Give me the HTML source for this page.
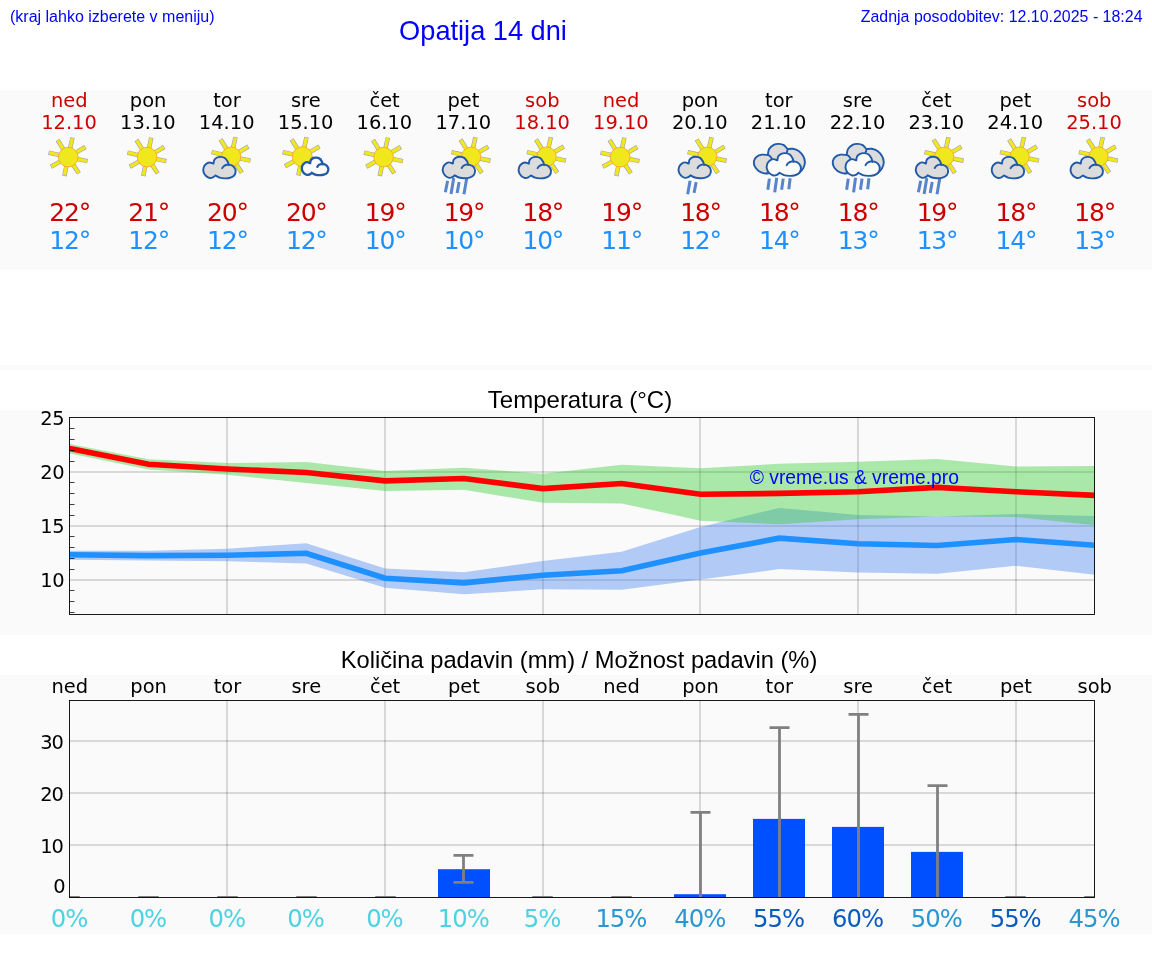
<!DOCTYPE html>
<html lang="sl"><head><meta charset="utf-8"><title>Opatija 14 dni</title>
<style>
html,body{margin:0;padding:0;background:#fff;overflow:hidden}
svg{display:block}
.dj{font-family:"DejaVu Sans","Liberation Sans",sans-serif}
.ar{font-family:"Liberation Sans",Arial,sans-serif}
text{text-anchor:middle}
</style></head><body>
<svg width="1152" height="975" viewBox="0 0 1152 975">
<rect x="0" y="90" width="1152" height="180" fill="#fafafa"/>
<rect x="0" y="365" width="1152" height="5" fill="#fafafa"/>
<rect x="0" y="410" width="1152" height="224.7" fill="#fafafa"/>
<rect x="0" y="675" width="1152" height="259.5" fill="#fafafa"/>
<g class="ar" fill="#0000ff">
<text x="10" y="21.5" font-size="16" style="text-anchor:start">(kraj lahko izberete v meniju)</text>
<text x="483" y="39.5" font-size="27.2">Opatija 14 dni</text>
<text x="1142.5" y="21.5" font-size="15.94" style="text-anchor:end">Zadnja posodobitev: 12.10.2025 - 18:24</text>
</g>
<g id="icons">
<g stroke-linecap="butt"><path d="M70.09 148.51L72.48 137.62M75.78 152.63L85.39 146.97M76.81 158.91L87.53 161.17M73.03 164.46L78.88 173.36M66.45 165.72L64.36 175.96M60.52 161.39L50.96 166.74M59.63 155.12L48.57 152.57M63.58 149.61L57.61 139.96" stroke="#9090a4" stroke-opacity="0.85" stroke-width="4.5" fill="none"/><path d="M70.09 148.51L72.37 138.15M75.78 152.63L84.92 147.25M76.81 158.91L86.99 161.06M73.03 164.46L78.58 172.90M66.45 165.72L64.47 175.42M60.52 161.39L51.44 166.47M59.63 155.12L49.10 152.69M63.58 149.61L57.90 140.42" stroke="#f0e81c" stroke-width="3.3" fill="none"/></g><circle cx="68.20" cy="157.10" r="9.8" fill="#f0e81c" stroke="#f8a824" stroke-width="0.9"/>
<g stroke-linecap="butt"><path d="M148.94 148.51L151.33 137.62M154.63 152.63L164.24 146.97M155.66 158.91L166.37 161.17M151.88 164.46L157.72 173.36M145.29 165.72L143.21 175.96M139.36 161.39L129.81 166.74M138.47 155.12L127.41 152.57M142.42 149.61L136.46 139.96" stroke="#9090a4" stroke-opacity="0.85" stroke-width="4.5" fill="none"/><path d="M148.94 148.51L151.21 138.15M154.63 152.63L163.76 147.25M155.66 158.91L165.83 161.06M151.88 164.46L157.42 172.90M145.29 165.72L143.32 175.42M139.36 161.39L130.29 166.47M138.47 155.12L127.95 152.69M142.42 149.61L136.75 140.42" stroke="#f0e81c" stroke-width="3.3" fill="none"/></g><circle cx="147.05" cy="157.10" r="9.8" fill="#f0e81c" stroke="#f8a824" stroke-width="0.9"/>
<g stroke-linecap="butt"><path d="M233.04 148.20L235.48 137.12M238.60 152.24L248.38 146.47M239.61 158.37L250.52 160.67M235.91 163.79L241.87 172.86M229.48 165.03L227.35 175.46M223.69 160.80L213.95 166.24M222.81 154.67L211.56 152.07M226.67 149.28L220.60 139.46" stroke="#9090a4" stroke-opacity="0.85" stroke-width="4.5" fill="none"/><path d="M233.04 148.20L235.36 137.65M238.60 152.24L247.91 146.75M239.61 158.37L249.98 160.56M235.91 163.79L241.57 172.40M229.48 165.03L227.46 174.92M223.69 160.80L214.43 165.97M222.81 154.67L212.09 152.19M226.67 149.28L220.89 139.92" stroke="#f0e81c" stroke-width="3.3" fill="none"/></g><circle cx="231.19" cy="156.60" r="9.6" fill="#f0e81c" stroke="#f8a824" stroke-width="0.9"/>
<path d="M215.43 175.44C215.02 175.75 213.93 176.91 212.96 177.33C212.00 177.75 210.83 178.21 209.63 177.95C208.43 177.69 206.81 176.84 205.78 175.79C204.76 174.75 203.82 173.10 203.48 171.69C203.14 170.28 203.35 168.57 203.73 167.33C204.12 166.09 204.84 165.06 205.78 164.26C206.72 163.45 208.09 162.62 209.37 162.51C210.66 162.41 212.79 163.45 213.48 163.64L213.48 163.64C213.61 163.02 213.65 160.92 214.25 159.90C214.84 158.87 216.00 157.99 217.07 157.49C218.14 156.98 219.37 156.79 220.66 156.87C221.94 156.96 223.61 157.24 224.76 158.00C225.91 158.76 226.90 160.24 227.58 161.44C228.26 162.63 228.65 164.56 228.86 165.18L228.86 165.18C229.12 165.14 229.55 164.61 230.40 164.92C231.25 165.24 233.12 166.08 233.99 167.08C234.86 168.08 235.59 169.56 235.63 170.92C235.67 172.29 235.16 174.15 234.25 175.28C233.33 176.42 231.72 177.23 230.14 177.74C228.56 178.26 226.51 178.38 224.76 178.36C223.01 178.33 221.19 178.08 219.63 177.59C218.08 177.10 216.13 175.79 215.43 175.44Z" fill="#dcdcdc"/><path d="M215.43 175.44C215.02 175.75 213.93 176.91 212.96 177.33C212.00 177.75 210.83 178.21 209.63 177.95C208.43 177.69 206.81 176.84 205.78 175.79C204.76 174.75 203.82 173.10 203.48 171.69C203.14 170.28 203.35 168.57 203.73 167.33C204.12 166.09 204.84 165.06 205.78 164.26C206.72 163.45 208.09 162.62 209.37 162.51C210.66 162.41 212.79 163.45 213.48 163.64L213.48 163.64C213.61 163.02 213.65 160.92 214.25 159.90C214.84 158.87 216.00 157.99 217.07 157.49C218.14 156.98 219.37 156.79 220.66 156.87C221.94 156.96 223.61 157.24 224.76 158.00C225.91 158.76 226.90 160.24 227.58 161.44C228.26 162.63 228.65 164.56 228.86 165.18M222.19 168.21C222.45 167.86 222.96 166.73 223.73 166.15C224.50 165.58 225.70 164.97 226.81 164.77C227.92 164.56 229.20 164.54 230.40 164.92C231.60 165.31 233.12 166.08 233.99 167.08C234.86 168.08 235.59 169.56 235.63 170.92C235.67 172.29 235.16 174.15 234.25 175.28C233.33 176.42 231.72 177.23 230.14 177.74C228.56 178.26 226.51 178.38 224.76 178.36C223.01 178.33 221.19 178.08 219.63 177.59C218.08 177.10 216.13 175.79 215.43 175.44" fill="none" stroke="#2159a9" stroke-width="1.9" stroke-linecap="round" stroke-linejoin="round"/>
<g stroke-linecap="butt"><path d="M304.15 147.91L306.52 137.12M309.91 152.08L319.43 146.47M310.95 158.44L321.56 160.67M307.12 164.04L312.92 172.86M300.46 165.32L298.40 175.46M294.47 160.94L285.00 166.24M293.57 154.60L282.60 152.07M297.56 149.03L291.65 139.46" stroke="#9090a4" stroke-opacity="0.85" stroke-width="4.5" fill="none"/><path d="M304.15 147.91L306.40 137.65M309.91 152.08L318.95 146.75M310.95 158.44L321.03 160.56M307.12 164.04L312.61 172.40M300.46 165.32L298.51 174.92M294.47 160.94L285.48 165.97M293.57 154.60L283.14 152.19M297.56 149.03L291.94 139.92" stroke="#f0e81c" stroke-width="3.3" fill="none"/></g><circle cx="302.24" cy="156.60" r="9.9" fill="#f0e81c" stroke="#f8a824" stroke-width="0.9"/>
<path d="M311.77 172.81C311.43 173.07 310.54 174.02 309.75 174.36C308.96 174.71 308.00 175.08 307.02 174.87C306.03 174.66 304.70 173.96 303.86 173.10C303.02 172.25 302.25 170.89 301.97 169.74C301.69 168.58 301.86 167.18 302.18 166.16C302.50 165.15 303.09 164.30 303.86 163.64C304.63 162.98 305.75 162.29 306.81 162.21C307.86 162.13 309.61 162.98 310.17 163.14L310.17 163.14C310.27 162.62 310.31 160.91 310.80 160.07C311.29 159.22 312.24 158.50 313.11 158.09C313.99 157.68 315.01 157.51 316.06 157.58C317.11 157.65 318.47 157.89 319.42 158.51C320.37 159.13 321.17 160.35 321.73 161.33C322.29 162.31 322.61 163.89 322.79 164.40L322.79 164.40C323.00 164.36 323.35 163.93 324.05 164.19C324.75 164.45 326.28 165.13 326.99 165.95C327.71 166.77 328.30 167.99 328.34 169.11C328.37 170.23 327.95 171.75 327.20 172.68C326.45 173.61 325.13 174.28 323.84 174.70C322.54 175.12 320.86 175.23 319.42 175.20C317.98 175.18 316.49 174.97 315.22 174.57C313.94 174.17 312.34 173.10 311.77 172.81Z" fill="#fbfbfb"/><path d="M311.77 172.81C311.43 173.07 310.54 174.02 309.75 174.36C308.96 174.71 308.00 175.08 307.02 174.87C306.03 174.66 304.70 173.96 303.86 173.10C303.02 172.25 302.25 170.89 301.97 169.74C301.69 168.58 301.86 167.18 302.18 166.16C302.50 165.15 303.09 164.30 303.86 163.64C304.63 162.98 305.75 162.29 306.81 162.21C307.86 162.13 309.61 162.98 310.17 163.14L310.17 163.14C310.27 162.62 310.31 160.91 310.80 160.07C311.29 159.22 312.24 158.50 313.11 158.09C313.99 157.68 315.01 157.51 316.06 157.58C317.11 157.65 318.47 157.89 319.42 158.51C320.37 159.13 321.17 160.35 321.73 161.33C322.29 162.31 322.61 163.89 322.79 164.40M317.32 166.88C317.53 166.60 317.95 165.67 318.58 165.20C319.21 164.73 320.19 164.23 321.10 164.06C322.01 163.89 323.07 163.87 324.05 164.19C325.03 164.50 326.28 165.13 326.99 165.95C327.71 166.77 328.30 167.99 328.34 169.11C328.37 170.23 327.95 171.75 327.20 172.68C326.45 173.61 325.13 174.28 323.84 174.70C322.54 175.12 320.86 175.23 319.42 175.20C317.98 175.18 316.49 174.97 315.22 174.57C313.94 174.17 312.34 173.10 311.77 172.81" fill="none" stroke="#2159a9" stroke-width="2.3" stroke-linecap="round" stroke-linejoin="round"/>
<g stroke-linecap="butt"><path d="M385.47 148.51L387.87 137.62M391.17 152.63L400.77 146.97M392.20 158.91L402.91 161.17M388.42 164.46L394.26 173.36M381.83 165.72L379.75 175.96M375.90 161.39L366.34 166.74M375.01 155.12L363.95 152.57M378.96 149.61L373.00 139.96" stroke="#9090a4" stroke-opacity="0.85" stroke-width="4.5" fill="none"/><path d="M385.47 148.51L387.75 138.15M391.17 152.63L400.30 147.25M392.20 158.91L402.37 161.06M388.42 164.46L393.96 172.90M381.83 165.72L379.86 175.42M375.90 161.39L366.82 166.47M375.01 155.12L364.49 152.69M378.96 149.61L373.29 140.42" stroke="#f0e81c" stroke-width="3.3" fill="none"/></g><circle cx="383.58" cy="157.10" r="9.8" fill="#f0e81c" stroke="#f8a824" stroke-width="0.9"/>
<g stroke-linecap="butt"><path d="M472.98 148.30L475.41 137.22M478.54 152.34L488.32 146.57M479.55 158.47L490.46 160.77M475.85 163.89L481.81 172.96M469.42 165.13L467.29 175.56M463.62 160.90L453.89 166.34M462.75 154.77L451.50 152.17M466.61 149.38L460.54 139.56" stroke="#9090a4" stroke-opacity="0.85" stroke-width="4.5" fill="none"/><path d="M472.98 148.30L475.30 137.75M478.54 152.34L487.85 146.85M479.55 158.47L489.92 160.66M475.85 163.89L481.51 172.50M469.42 165.13L467.40 175.02M463.62 160.90L454.37 166.07M462.75 154.77L452.03 152.29M466.61 149.38L460.83 140.02" stroke="#f0e81c" stroke-width="3.3" fill="none"/></g><circle cx="471.13" cy="156.70" r="9.6" fill="#f0e81c" stroke="#f8a824" stroke-width="0.9"/>
<path d="M454.86 175.34C454.45 175.65 453.37 176.81 452.40 177.23C451.44 177.65 450.27 178.11 449.07 177.85C447.87 177.59 446.25 176.74 445.22 175.69C444.20 174.65 443.26 173.00 442.92 171.59C442.57 170.18 442.79 168.47 443.17 167.23C443.56 165.99 444.28 164.96 445.22 164.16C446.16 163.35 447.53 162.52 448.81 162.41C450.09 162.31 452.23 163.35 452.92 163.54L452.92 163.54C453.04 162.92 453.09 160.82 453.68 159.80C454.28 158.77 455.44 157.89 456.51 157.39C457.57 156.88 458.81 156.69 460.09 156.77C461.38 156.86 463.04 157.14 464.20 157.90C465.35 158.66 466.33 160.14 467.02 161.34C467.70 162.53 468.09 164.46 468.30 165.08L468.30 165.08C468.56 165.04 468.98 164.51 469.84 164.82C470.69 165.14 472.56 165.98 473.43 166.98C474.30 167.98 475.03 169.46 475.07 170.82C475.11 172.19 474.60 174.05 473.68 175.18C472.77 176.32 471.16 177.13 469.58 177.64C468.00 178.16 465.95 178.28 464.20 178.26C462.45 178.23 460.62 177.98 459.07 177.49C457.51 177.00 455.56 175.69 454.86 175.34Z" fill="#dcdcdc"/><path d="M454.86 175.34C454.45 175.65 453.37 176.81 452.40 177.23C451.44 177.65 450.27 178.11 449.07 177.85C447.87 177.59 446.25 176.74 445.22 175.69C444.20 174.65 443.26 173.00 442.92 171.59C442.57 170.18 442.79 168.47 443.17 167.23C443.56 165.99 444.28 164.96 445.22 164.16C446.16 163.35 447.53 162.52 448.81 162.41C450.09 162.31 452.23 163.35 452.92 163.54L452.92 163.54C453.04 162.92 453.09 160.82 453.68 159.80C454.28 158.77 455.44 157.89 456.51 157.39C457.57 156.88 458.81 156.69 460.09 156.77C461.38 156.86 463.04 157.14 464.20 157.90C465.35 158.66 466.33 160.14 467.02 161.34C467.70 162.53 468.09 164.46 468.30 165.08M461.63 168.11C461.89 167.76 462.40 166.63 463.17 166.05C463.94 165.48 465.14 164.87 466.25 164.67C467.36 164.46 468.64 164.44 469.84 164.82C471.04 165.21 472.56 165.98 473.43 166.98C474.30 167.98 475.03 169.46 475.07 170.82C475.11 172.19 474.60 174.05 473.68 175.18C472.77 176.32 471.16 177.13 469.58 177.64C468.00 178.16 465.95 178.28 464.20 178.26C462.45 178.23 460.62 177.98 459.07 177.49C457.51 177.00 455.56 175.69 454.86 175.34" fill="none" stroke="#2159a9" stroke-width="1.9" stroke-linecap="round" stroke-linejoin="round"/>
<path d="M447.63 180.70L445.33 192.20M453.73 178.00L451.03 193.90M459.13 182.10L457.13 192.90M466.63 178.70L463.93 194.30" stroke="#2f66bd" stroke-opacity="0.8" stroke-width="3.0" fill="none"/>
<g stroke-linecap="butt"><path d="M548.42 148.20L550.86 137.12M553.99 152.24L563.77 146.47M554.99 158.37L565.90 160.67M551.30 163.79L557.26 172.86M544.86 165.03L542.74 175.46M539.07 160.80L529.34 166.24M538.20 154.67L526.94 152.07M542.06 149.28L535.99 139.46" stroke="#9090a4" stroke-opacity="0.85" stroke-width="4.5" fill="none"/><path d="M548.42 148.20L550.74 137.65M553.99 152.24L563.29 146.75M554.99 158.37L565.36 160.56M551.30 163.79L556.95 172.40M544.86 165.03L542.85 174.92M539.07 160.80L529.82 165.97M538.20 154.67L527.48 152.19M542.06 149.28L536.28 139.92" stroke="#f0e81c" stroke-width="3.3" fill="none"/></g><circle cx="546.58" cy="156.60" r="9.6" fill="#f0e81c" stroke="#f8a824" stroke-width="0.9"/>
<path d="M530.81 175.44C530.40 175.75 529.31 176.91 528.35 177.33C527.38 177.75 526.21 178.21 525.02 177.95C523.82 177.69 522.19 176.84 521.17 175.79C520.14 174.75 519.20 173.10 518.86 171.69C518.52 170.28 518.73 168.57 519.12 167.33C519.50 166.09 520.23 165.06 521.17 164.26C522.11 163.45 523.48 162.62 524.76 162.51C526.04 162.41 528.18 163.45 528.86 163.64L528.86 163.64C528.99 163.02 529.03 160.92 529.63 159.90C530.23 158.87 531.38 157.99 532.45 157.49C533.52 156.98 534.76 156.79 536.04 156.87C537.32 156.96 538.99 157.24 540.14 158.00C541.30 158.76 542.28 160.24 542.96 161.44C543.65 162.63 544.03 164.56 544.25 165.18L544.25 165.18C544.50 165.14 544.93 164.61 545.78 164.92C546.64 165.24 548.50 166.08 549.37 167.08C550.25 168.08 550.97 169.56 551.02 170.92C551.06 172.29 550.55 174.15 549.63 175.28C548.72 176.42 547.11 177.23 545.53 177.74C543.95 178.26 541.90 178.38 540.14 178.36C538.39 178.33 536.57 178.08 535.02 177.59C533.46 177.10 531.51 175.79 530.81 175.44Z" fill="#dcdcdc"/><path d="M530.81 175.44C530.40 175.75 529.31 176.91 528.35 177.33C527.38 177.75 526.21 178.21 525.02 177.95C523.82 177.69 522.19 176.84 521.17 175.79C520.14 174.75 519.20 173.10 518.86 171.69C518.52 170.28 518.73 168.57 519.12 167.33C519.50 166.09 520.23 165.06 521.17 164.26C522.11 163.45 523.48 162.62 524.76 162.51C526.04 162.41 528.18 163.45 528.86 163.64L528.86 163.64C528.99 163.02 529.03 160.92 529.63 159.90C530.23 158.87 531.38 157.99 532.45 157.49C533.52 156.98 534.76 156.79 536.04 156.87C537.32 156.96 538.99 157.24 540.14 158.00C541.30 158.76 542.28 160.24 542.96 161.44C543.65 162.63 544.03 164.56 544.25 165.18M537.58 168.21C537.84 167.86 538.35 166.73 539.12 166.15C539.89 165.58 541.08 164.97 542.19 164.77C543.31 164.56 544.59 164.54 545.78 164.92C546.98 165.31 548.50 166.08 549.37 167.08C550.25 168.08 550.97 169.56 551.02 170.92C551.06 172.29 550.55 174.15 549.63 175.28C548.72 176.42 547.11 177.23 545.53 177.74C543.95 178.26 541.90 178.38 540.14 178.36C538.39 178.33 536.57 178.08 535.02 177.59C533.46 177.10 531.51 175.79 530.81 175.44" fill="none" stroke="#2159a9" stroke-width="1.9" stroke-linecap="round" stroke-linejoin="round"/>
<g stroke-linecap="butt"><path d="M622.01 148.51L624.41 137.62M627.71 152.63L637.31 146.97M628.73 158.91L639.45 161.17M624.95 164.46L630.80 173.36M618.37 165.72L616.29 175.96M612.44 161.39L602.88 166.74M611.55 155.12L600.49 152.57M615.50 149.61L609.53 139.96" stroke="#9090a4" stroke-opacity="0.85" stroke-width="4.5" fill="none"/><path d="M622.01 148.51L624.29 138.15M627.71 152.63L636.84 147.25M628.73 158.91L638.91 161.06M624.95 164.46L630.50 172.90M618.37 165.72L616.39 175.42M612.44 161.39L603.36 166.47M611.55 155.12L601.03 152.69M615.50 149.61L609.82 140.42" stroke="#f0e81c" stroke-width="3.3" fill="none"/></g><circle cx="620.12" cy="157.10" r="9.8" fill="#f0e81c" stroke="#f8a824" stroke-width="0.9"/>
<g stroke-linecap="butt"><path d="M709.12 148.30L711.55 137.22M714.68 152.34L724.46 146.57M715.68 158.47L726.59 160.77M711.99 163.89L717.95 172.96M705.55 165.13L703.43 175.56M699.76 160.90L690.03 166.34M698.89 154.77L687.64 152.17M702.75 149.38L696.68 139.56" stroke="#9090a4" stroke-opacity="0.85" stroke-width="4.5" fill="none"/><path d="M709.12 148.30L711.44 137.75M714.68 152.34L723.98 146.85M715.68 158.47L726.06 160.66M711.99 163.89L717.65 172.50M705.55 165.13L703.54 175.02M699.76 160.90L690.51 166.07M698.89 154.77L688.17 152.29M702.75 149.38L696.97 140.02" stroke="#f0e81c" stroke-width="3.3" fill="none"/></g><circle cx="707.27" cy="156.70" r="9.6" fill="#f0e81c" stroke="#f8a824" stroke-width="0.9"/>
<path d="M690.70 175.34C690.29 175.65 689.21 176.81 688.24 177.23C687.28 177.65 686.10 178.11 684.91 177.85C683.71 177.59 682.09 176.74 681.06 175.69C680.04 174.65 679.10 173.00 678.75 171.59C678.41 170.18 678.63 168.47 679.01 167.23C679.39 165.99 680.12 164.96 681.06 164.16C682.00 163.35 683.37 162.52 684.65 162.41C685.93 162.31 688.07 163.35 688.75 163.54L688.75 163.54C688.88 162.92 688.92 160.82 689.52 159.80C690.12 158.77 691.28 157.89 692.34 157.39C693.41 156.88 694.65 156.69 695.93 156.77C697.22 156.86 698.88 157.14 700.04 157.90C701.19 158.66 702.17 160.14 702.86 161.34C703.54 162.53 703.92 164.46 704.14 165.08L704.14 165.08C704.39 165.04 704.82 164.51 705.68 164.82C706.53 165.14 708.39 165.98 709.27 166.98C710.14 167.98 710.86 169.46 710.91 170.82C710.95 172.19 710.44 174.05 709.52 175.18C708.61 176.32 707.00 177.13 705.42 177.64C703.84 178.16 701.79 178.28 700.04 178.26C698.28 178.23 696.46 177.98 694.91 177.49C693.35 177.00 691.40 175.69 690.70 175.34Z" fill="#dcdcdc"/><path d="M690.70 175.34C690.29 175.65 689.21 176.81 688.24 177.23C687.28 177.65 686.10 178.11 684.91 177.85C683.71 177.59 682.09 176.74 681.06 175.69C680.04 174.65 679.10 173.00 678.75 171.59C678.41 170.18 678.63 168.47 679.01 167.23C679.39 165.99 680.12 164.96 681.06 164.16C682.00 163.35 683.37 162.52 684.65 162.41C685.93 162.31 688.07 163.35 688.75 163.54L688.75 163.54C688.88 162.92 688.92 160.82 689.52 159.80C690.12 158.77 691.28 157.89 692.34 157.39C693.41 156.88 694.65 156.69 695.93 156.77C697.22 156.86 698.88 157.14 700.04 157.90C701.19 158.66 702.17 160.14 702.86 161.34C703.54 162.53 703.92 164.46 704.14 165.08M697.47 168.11C697.73 167.76 698.24 166.63 699.01 166.05C699.78 165.48 700.98 164.87 702.09 164.67C703.20 164.46 704.48 164.44 705.68 164.82C706.87 165.21 708.39 165.98 709.27 166.98C710.14 167.98 710.86 169.46 710.91 170.82C710.95 172.19 710.44 174.05 709.52 175.18C708.61 176.32 707.00 177.13 705.42 177.64C703.84 178.16 701.79 178.28 700.04 178.26C698.28 178.23 696.46 177.98 694.91 177.49C693.35 177.00 691.40 175.69 690.70 175.34" fill="none" stroke="#2159a9" stroke-width="1.9" stroke-linecap="round" stroke-linejoin="round"/>
<path d="M690.07 180.70L687.67 194.30M696.17 182.10L694.07 192.90" stroke="#2f66bd" stroke-opacity="0.8" stroke-width="3.0" fill="none"/>
<path d="M770.44 172.74C769.45 172.85 766.50 173.67 764.53 173.40C762.56 173.12 760.26 172.30 758.62 171.10C756.98 169.89 755.45 167.87 754.68 166.17C753.92 164.48 753.70 162.51 754.02 160.92C754.35 159.33 755.34 157.69 756.65 156.65C757.96 155.61 760.04 154.96 761.90 154.68C763.76 154.41 766.83 154.96 767.81 155.01L767.81 155.01C768.03 154.03 768.14 150.80 769.13 149.10C770.11 147.41 772.08 145.71 773.72 144.83C775.36 143.96 777.28 143.79 778.98 143.85C780.67 143.90 782.48 144.29 783.90 145.16C785.32 146.04 786.91 148.45 787.51 149.10L787.51 149.10C788.39 149.05 790.90 148.45 792.76 148.77C794.62 149.10 796.92 149.81 798.67 151.07C800.42 152.33 802.23 154.46 803.27 156.32C804.31 158.18 804.91 160.26 804.91 162.23C804.91 164.20 804.20 166.39 803.27 168.14C802.34 169.89 800.86 171.59 799.33 172.74C797.80 173.89 794.95 174.65 794.08 175.04Z" fill="#dcdcdc"/><path d="M770.44 172.74C769.45 172.85 766.50 173.67 764.53 173.40C762.56 173.12 760.26 172.30 758.62 171.10C756.98 169.89 755.45 167.87 754.68 166.17C753.92 164.48 753.70 162.51 754.02 160.92C754.35 159.33 755.34 157.69 756.65 156.65C757.96 155.61 760.04 154.96 761.90 154.68C763.76 154.41 766.83 154.96 767.81 155.01L767.81 155.01C768.03 154.03 768.14 150.80 769.13 149.10C770.11 147.41 772.08 145.71 773.72 144.83C775.36 143.96 777.28 143.79 778.98 143.85C780.67 143.90 782.48 144.29 783.90 145.16C785.32 146.04 786.91 148.45 787.51 149.10L787.51 149.10C788.39 149.05 790.90 148.45 792.76 148.77C794.62 149.10 796.92 149.81 798.67 151.07C800.42 152.33 802.23 154.46 803.27 156.32C804.31 158.18 804.91 160.26 804.91 162.23C804.91 164.20 804.20 166.39 803.27 168.14C802.34 169.89 800.86 171.59 799.33 172.74C797.80 173.89 794.95 174.65 794.08 175.04M767.81 155.01C768.14 155.18 769.16 155.47 769.78 156.00C770.41 156.52 771.26 157.80 771.56 158.16M787.51 149.10C787.48 149.38 787.45 150.17 787.31 150.74C787.18 151.31 786.82 152.22 786.72 152.52" fill="none" stroke="#2159a9" stroke-width="1.9" stroke-linecap="round" stroke-linejoin="round"/>
<path d="M779.52 172.81C779.08 173.15 777.93 174.38 776.91 174.82C775.88 175.27 774.64 175.75 773.37 175.48C772.11 175.20 770.38 174.30 769.30 173.19C768.21 172.09 767.21 170.34 766.85 168.84C766.49 167.35 766.72 165.54 767.12 164.22C767.53 162.91 768.30 161.81 769.30 160.96C770.29 160.11 771.74 159.22 773.10 159.11C774.46 159.00 776.73 160.11 777.45 160.31L777.45 160.31C777.59 159.65 777.63 157.43 778.27 156.34C778.90 155.25 780.12 154.32 781.26 153.79C782.39 153.25 783.70 153.04 785.06 153.13C786.42 153.22 788.19 153.52 789.41 154.33C790.63 155.14 791.68 156.70 792.40 157.97C793.12 159.24 793.53 161.28 793.76 161.94L793.76 161.94C794.03 161.89 794.48 161.33 795.39 161.67C796.30 162.00 798.27 162.89 799.19 163.95C800.12 165.01 800.89 166.58 800.93 168.03C800.98 169.48 800.44 171.44 799.47 172.65C798.50 173.85 796.79 174.71 795.12 175.26C793.44 175.80 791.27 175.94 789.41 175.91C787.55 175.88 785.62 175.61 783.97 175.10C782.33 174.58 780.26 173.19 779.52 172.81Z" fill="#fbfbfb"/><path d="M779.52 172.81C779.08 173.15 777.93 174.38 776.91 174.82C775.88 175.27 774.64 175.75 773.37 175.48C772.11 175.20 770.38 174.30 769.30 173.19C768.21 172.09 767.21 170.34 766.85 168.84C766.49 167.35 766.72 165.54 767.12 164.22C767.53 162.91 768.30 161.81 769.30 160.96C770.29 160.11 771.74 159.22 773.10 159.11C774.46 159.00 776.73 160.11 777.45 160.31L777.45 160.31C777.59 159.65 777.63 157.43 778.27 156.34C778.90 155.25 780.12 154.32 781.26 153.79C782.39 153.25 783.70 153.04 785.06 153.13C786.42 153.22 788.19 153.52 789.41 154.33C790.63 155.14 791.68 156.70 792.40 157.97C793.12 159.24 793.53 161.28 793.76 161.94M786.69 165.15C786.96 164.79 787.51 163.58 788.32 162.97C789.14 162.37 790.41 161.72 791.58 161.51C792.76 161.29 794.12 161.26 795.39 161.67C796.66 162.08 798.27 162.89 799.19 163.95C800.12 165.01 800.89 166.58 800.93 168.03C800.98 169.48 800.44 171.44 799.47 172.65C798.50 173.85 796.79 174.71 795.12 175.26C793.44 175.80 791.27 175.94 789.41 175.91C787.55 175.88 785.62 175.61 783.97 175.10C782.33 174.58 780.26 173.19 779.52 172.81" fill="none" stroke="#2159a9" stroke-width="1.9" stroke-linecap="round" stroke-linejoin="round"/>
<path d="M769.42 178.60L767.82 189.80M776.72 177.70L774.72 192.40M783.22 178.60L781.62 189.80M790.12 178.30L788.82 189.20" stroke="#2f66bd" stroke-opacity="0.8" stroke-width="3.0" fill="none"/>
<path d="M849.29 172.74C848.30 172.85 845.35 173.67 843.38 173.40C841.41 173.12 839.11 172.30 837.47 171.10C835.83 169.89 834.29 167.87 833.53 166.17C832.76 164.48 832.54 162.51 832.87 160.92C833.20 159.33 834.18 157.69 835.50 156.65C836.81 155.61 838.89 154.96 840.75 154.68C842.61 154.41 845.67 154.96 846.66 155.01L846.66 155.01C846.88 154.03 846.99 150.80 847.97 149.10C848.96 147.41 850.93 145.71 852.57 144.83C854.21 143.96 856.13 143.79 857.82 143.85C859.52 143.90 861.32 144.29 862.75 145.16C864.17 146.04 865.76 148.45 866.36 149.10L866.36 149.10C867.23 149.05 869.75 148.45 871.61 148.77C873.47 149.10 875.77 149.81 877.52 151.07C879.27 152.33 881.08 154.46 882.12 156.32C883.16 158.18 883.76 160.26 883.76 162.23C883.76 164.20 883.05 166.39 882.12 168.14C881.19 169.89 879.71 171.59 878.18 172.74C876.64 173.89 873.80 174.65 872.92 175.04Z" fill="#dcdcdc"/><path d="M849.29 172.74C848.30 172.85 845.35 173.67 843.38 173.40C841.41 173.12 839.11 172.30 837.47 171.10C835.83 169.89 834.29 167.87 833.53 166.17C832.76 164.48 832.54 162.51 832.87 160.92C833.20 159.33 834.18 157.69 835.50 156.65C836.81 155.61 838.89 154.96 840.75 154.68C842.61 154.41 845.67 154.96 846.66 155.01L846.66 155.01C846.88 154.03 846.99 150.80 847.97 149.10C848.96 147.41 850.93 145.71 852.57 144.83C854.21 143.96 856.13 143.79 857.82 143.85C859.52 143.90 861.32 144.29 862.75 145.16C864.17 146.04 865.76 148.45 866.36 149.10L866.36 149.10C867.23 149.05 869.75 148.45 871.61 148.77C873.47 149.10 875.77 149.81 877.52 151.07C879.27 152.33 881.08 154.46 882.12 156.32C883.16 158.18 883.76 160.26 883.76 162.23C883.76 164.20 883.05 166.39 882.12 168.14C881.19 169.89 879.71 171.59 878.18 172.74C876.64 173.89 873.80 174.65 872.92 175.04M846.66 155.01C846.99 155.18 848.01 155.47 848.63 156.00C849.25 156.52 850.11 157.80 850.40 158.16M866.36 149.10C866.32 149.38 866.29 150.17 866.16 150.74C866.03 151.31 865.67 152.22 865.57 152.52" fill="none" stroke="#2159a9" stroke-width="1.9" stroke-linecap="round" stroke-linejoin="round"/>
<path d="M858.36 172.81C857.93 173.15 856.78 174.38 855.75 174.82C854.73 175.27 853.49 175.75 852.22 175.48C850.95 175.20 849.23 174.30 848.14 173.19C847.06 172.09 846.06 170.34 845.70 168.84C845.33 167.35 845.56 165.54 845.97 164.22C846.38 162.91 847.15 161.81 848.14 160.96C849.14 160.11 850.59 159.22 851.95 159.11C853.31 159.00 855.57 160.11 856.30 160.31L856.30 160.31C856.43 159.65 856.48 157.43 857.11 156.34C857.75 155.25 858.97 154.32 860.10 153.79C861.23 153.25 862.55 153.04 863.91 153.13C865.27 153.22 867.03 153.52 868.26 154.33C869.48 155.14 870.52 156.70 871.25 157.97C871.97 159.24 872.38 161.28 872.60 161.94L872.60 161.94C872.88 161.89 873.33 161.33 874.24 161.67C875.14 162.00 877.12 162.89 878.04 163.95C878.96 165.01 879.74 166.58 879.78 168.03C879.83 169.48 879.28 171.44 878.31 172.65C877.34 173.85 875.64 174.71 873.96 175.26C872.29 175.80 870.11 175.94 868.26 175.91C866.40 175.88 864.47 175.61 862.82 175.10C861.17 174.58 859.11 173.19 858.36 172.81Z" fill="#fbfbfb"/><path d="M858.36 172.81C857.93 173.15 856.78 174.38 855.75 174.82C854.73 175.27 853.49 175.75 852.22 175.48C850.95 175.20 849.23 174.30 848.14 173.19C847.06 172.09 846.06 170.34 845.70 168.84C845.33 167.35 845.56 165.54 845.97 164.22C846.38 162.91 847.15 161.81 848.14 160.96C849.14 160.11 850.59 159.22 851.95 159.11C853.31 159.00 855.57 160.11 856.30 160.31L856.30 160.31C856.43 159.65 856.48 157.43 857.11 156.34C857.75 155.25 858.97 154.32 860.10 153.79C861.23 153.25 862.55 153.04 863.91 153.13C865.27 153.22 867.03 153.52 868.26 154.33C869.48 155.14 870.52 156.70 871.25 157.97C871.97 159.24 872.38 161.28 872.60 161.94M865.54 165.15C865.81 164.79 866.35 163.58 867.17 162.97C867.98 162.37 869.25 161.72 870.43 161.51C871.61 161.29 872.97 161.26 874.24 161.67C875.50 162.08 877.12 162.89 878.04 163.95C878.96 165.01 879.74 166.58 879.78 168.03C879.83 169.48 879.28 171.44 878.31 172.65C877.34 173.85 875.64 174.71 873.96 175.26C872.29 175.80 870.11 175.94 868.26 175.91C866.40 175.88 864.47 175.61 862.82 175.10C861.17 174.58 859.11 173.19 858.36 172.81" fill="none" stroke="#2159a9" stroke-width="1.9" stroke-linecap="round" stroke-linejoin="round"/>
<path d="M848.26 178.60L846.66 189.80M855.56 177.70L853.56 192.40M862.06 178.60L860.46 189.80M868.96 178.30L867.66 189.20" stroke="#2f66bd" stroke-opacity="0.8" stroke-width="3.0" fill="none"/>
<g stroke-linecap="butt"><path d="M946.05 148.30L948.49 137.22M951.62 152.34L961.40 146.57M952.62 158.47L963.53 160.77M948.93 163.89L954.89 172.96M942.49 165.13L940.37 175.56M936.70 160.90L926.97 166.34M935.83 154.77L924.57 152.17M939.69 149.38L933.62 139.56" stroke="#9090a4" stroke-opacity="0.85" stroke-width="4.5" fill="none"/><path d="M946.05 148.30L948.37 137.75M951.62 152.34L960.92 146.85M952.62 158.47L963.00 160.66M948.93 163.89L954.58 172.50M942.49 165.13L940.48 175.02M936.70 160.90L927.45 166.07M935.83 154.77L925.11 152.29M939.69 149.38L933.91 140.02" stroke="#f0e81c" stroke-width="3.3" fill="none"/></g><circle cx="944.21" cy="156.70" r="9.6" fill="#f0e81c" stroke="#f8a824" stroke-width="0.9"/>
<path d="M927.94 175.34C927.53 175.65 926.45 176.81 925.48 177.23C924.51 177.65 923.34 178.11 922.15 177.85C920.95 177.59 919.33 176.74 918.30 175.69C917.27 174.65 916.33 173.00 915.99 171.59C915.65 170.18 915.86 168.47 916.25 167.23C916.63 165.99 917.36 164.96 918.30 164.16C919.24 163.35 920.61 162.52 921.89 162.41C923.17 162.31 925.31 163.35 925.99 163.54L925.99 163.54C926.12 162.92 926.16 160.82 926.76 159.80C927.36 158.77 928.51 157.89 929.58 157.39C930.65 156.88 931.89 156.69 933.17 156.77C934.45 156.86 936.12 157.14 937.27 157.90C938.43 158.66 939.41 160.14 940.09 161.34C940.78 162.53 941.16 164.46 941.38 165.08L941.38 165.08C941.63 165.04 942.06 164.51 942.92 164.82C943.77 165.14 945.63 165.98 946.51 166.98C947.38 167.98 948.10 169.46 948.15 170.82C948.19 172.19 947.68 174.05 946.76 175.18C945.85 176.32 944.24 177.13 942.66 177.64C941.08 178.16 939.03 178.28 937.27 178.26C935.52 178.23 933.70 177.98 932.15 177.49C930.59 177.00 928.64 175.69 927.94 175.34Z" fill="#dcdcdc"/><path d="M927.94 175.34C927.53 175.65 926.45 176.81 925.48 177.23C924.51 177.65 923.34 178.11 922.15 177.85C920.95 177.59 919.33 176.74 918.30 175.69C917.27 174.65 916.33 173.00 915.99 171.59C915.65 170.18 915.86 168.47 916.25 167.23C916.63 165.99 917.36 164.96 918.30 164.16C919.24 163.35 920.61 162.52 921.89 162.41C923.17 162.31 925.31 163.35 925.99 163.54L925.99 163.54C926.12 162.92 926.16 160.82 926.76 159.80C927.36 158.77 928.51 157.89 929.58 157.39C930.65 156.88 931.89 156.69 933.17 156.77C934.45 156.86 936.12 157.14 937.27 157.90C938.43 158.66 939.41 160.14 940.09 161.34C940.78 162.53 941.16 164.46 941.38 165.08M934.71 168.11C934.97 167.76 935.48 166.63 936.25 166.05C937.02 165.48 938.21 164.87 939.33 164.67C940.44 164.46 941.72 164.44 942.92 164.82C944.11 165.21 945.63 165.98 946.51 166.98C947.38 167.98 948.10 169.46 948.15 170.82C948.19 172.19 947.68 174.05 946.76 175.18C945.85 176.32 944.24 177.13 942.66 177.64C941.08 178.16 939.03 178.28 937.27 178.26C935.52 178.23 933.70 177.98 932.15 177.49C930.59 177.00 928.64 175.69 927.94 175.34" fill="none" stroke="#2159a9" stroke-width="1.9" stroke-linecap="round" stroke-linejoin="round"/>
<path d="M920.71 180.70L918.41 192.20M926.81 178.00L924.11 193.90M932.21 182.10L930.21 192.90M939.71 178.70L937.01 194.30" stroke="#2f66bd" stroke-opacity="0.8" stroke-width="3.0" fill="none"/>
<g stroke-linecap="butt"><path d="M1021.50 148.20L1023.94 137.12M1027.06 152.24L1036.84 146.47M1028.07 158.37L1038.98 160.67M1024.38 163.79L1030.33 172.86M1017.94 165.03L1015.82 175.46M1012.15 160.80L1002.41 166.24M1011.27 154.67L1000.02 152.07M1015.13 149.28L1009.07 139.46" stroke="#9090a4" stroke-opacity="0.85" stroke-width="4.5" fill="none"/><path d="M1021.50 148.20L1023.82 137.65M1027.06 152.24L1036.37 146.75M1028.07 158.37L1038.44 160.56M1024.38 163.79L1030.03 172.40M1017.94 165.03L1015.93 174.92M1012.15 160.80L1002.89 165.97M1011.27 154.67L1000.56 152.19M1015.13 149.28L1009.35 139.92" stroke="#f0e81c" stroke-width="3.3" fill="none"/></g><circle cx="1019.65" cy="156.60" r="9.6" fill="#f0e81c" stroke="#f8a824" stroke-width="0.9"/>
<path d="M1003.89 175.44C1003.48 175.75 1002.39 176.91 1001.43 177.33C1000.46 177.75 999.29 178.21 998.09 177.95C996.90 177.69 995.27 176.84 994.25 175.79C993.22 174.75 992.28 173.10 991.94 171.69C991.60 170.28 991.81 168.57 992.19 167.33C992.58 166.09 993.31 165.06 994.25 164.26C995.19 163.45 996.55 162.62 997.84 162.51C999.12 162.41 1001.25 163.45 1001.94 163.64L1001.94 163.64C1002.07 163.02 1002.11 160.92 1002.71 159.90C1003.31 158.87 1004.46 157.99 1005.53 157.49C1006.60 156.98 1007.84 156.79 1009.12 156.87C1010.40 156.96 1012.07 157.24 1013.22 158.00C1014.37 158.76 1015.36 160.24 1016.04 161.44C1016.72 162.63 1017.11 164.56 1017.32 165.18L1017.32 165.18C1017.58 165.14 1018.01 164.61 1018.86 164.92C1019.72 165.24 1021.58 166.08 1022.45 167.08C1023.32 168.08 1024.05 169.56 1024.09 170.92C1024.14 172.29 1023.62 174.15 1022.71 175.28C1021.79 176.42 1020.19 177.23 1018.61 177.74C1017.02 178.26 1014.97 178.38 1013.22 178.36C1011.47 178.33 1009.65 178.08 1008.09 177.59C1006.54 177.10 1004.59 175.79 1003.89 175.44Z" fill="#dcdcdc"/><path d="M1003.89 175.44C1003.48 175.75 1002.39 176.91 1001.43 177.33C1000.46 177.75 999.29 178.21 998.09 177.95C996.90 177.69 995.27 176.84 994.25 175.79C993.22 174.75 992.28 173.10 991.94 171.69C991.60 170.28 991.81 168.57 992.19 167.33C992.58 166.09 993.31 165.06 994.25 164.26C995.19 163.45 996.55 162.62 997.84 162.51C999.12 162.41 1001.25 163.45 1001.94 163.64L1001.94 163.64C1002.07 163.02 1002.11 160.92 1002.71 159.90C1003.31 158.87 1004.46 157.99 1005.53 157.49C1006.60 156.98 1007.84 156.79 1009.12 156.87C1010.40 156.96 1012.07 157.24 1013.22 158.00C1014.37 158.76 1015.36 160.24 1016.04 161.44C1016.72 162.63 1017.11 164.56 1017.32 165.18M1010.66 168.21C1010.91 167.86 1011.43 166.73 1012.19 166.15C1012.96 165.58 1014.16 164.97 1015.27 164.77C1016.38 164.56 1017.66 164.54 1018.86 164.92C1020.06 165.31 1021.58 166.08 1022.45 167.08C1023.32 168.08 1024.05 169.56 1024.09 170.92C1024.14 172.29 1023.62 174.15 1022.71 175.28C1021.79 176.42 1020.19 177.23 1018.61 177.74C1017.02 178.26 1014.97 178.38 1013.22 178.36C1011.47 178.33 1009.65 178.08 1008.09 177.59C1006.54 177.10 1004.59 175.79 1003.89 175.44" fill="none" stroke="#2159a9" stroke-width="1.9" stroke-linecap="round" stroke-linejoin="round"/>
<g stroke-linecap="butt"><path d="M1100.35 148.20L1102.78 137.12M1105.91 152.24L1115.69 146.47M1106.92 158.37L1117.83 160.67M1103.22 163.79L1109.18 172.86M1096.79 165.03L1094.66 175.46M1090.99 160.80L1081.26 166.24M1090.12 154.67L1078.87 152.07M1093.98 149.28L1087.91 139.46" stroke="#9090a4" stroke-opacity="0.85" stroke-width="4.5" fill="none"/><path d="M1100.35 148.20L1102.67 137.65M1105.91 152.24L1115.22 146.75M1106.92 158.37L1117.29 160.56M1103.22 163.79L1108.88 172.40M1096.79 165.03L1094.77 174.92M1090.99 160.80L1081.74 165.97M1090.12 154.67L1079.40 152.19M1093.98 149.28L1088.20 139.92" stroke="#f0e81c" stroke-width="3.3" fill="none"/></g><circle cx="1098.50" cy="156.60" r="9.6" fill="#f0e81c" stroke="#f8a824" stroke-width="0.9"/>
<path d="M1082.73 175.44C1082.32 175.75 1081.24 176.91 1080.27 177.33C1079.31 177.75 1078.14 178.21 1076.94 177.95C1075.74 177.69 1074.12 176.84 1073.09 175.79C1072.07 174.75 1071.13 173.10 1070.78 171.69C1070.44 170.28 1070.66 168.57 1071.04 167.33C1071.43 166.09 1072.15 165.06 1073.09 164.26C1074.03 163.45 1075.40 162.62 1076.68 162.51C1077.96 162.41 1080.10 163.45 1080.78 163.64L1080.78 163.64C1080.91 163.02 1080.96 160.92 1081.55 159.90C1082.15 158.87 1083.31 157.99 1084.37 157.49C1085.44 156.98 1086.68 156.79 1087.96 156.87C1089.25 156.96 1090.91 157.24 1092.07 158.00C1093.22 158.76 1094.20 160.24 1094.89 161.44C1095.57 162.63 1095.96 164.56 1096.17 165.18L1096.17 165.18C1096.43 165.14 1096.85 164.61 1097.71 164.92C1098.56 165.24 1100.43 166.08 1101.30 167.08C1102.17 168.08 1102.90 169.56 1102.94 170.92C1102.98 172.29 1102.47 174.15 1101.55 175.28C1100.64 176.42 1099.03 177.23 1097.45 177.74C1095.87 178.26 1093.82 178.38 1092.07 178.36C1090.31 178.33 1088.49 178.08 1086.94 177.59C1085.38 177.10 1083.43 175.79 1082.73 175.44Z" fill="#dcdcdc"/><path d="M1082.73 175.44C1082.32 175.75 1081.24 176.91 1080.27 177.33C1079.31 177.75 1078.14 178.21 1076.94 177.95C1075.74 177.69 1074.12 176.84 1073.09 175.79C1072.07 174.75 1071.13 173.10 1070.78 171.69C1070.44 170.28 1070.66 168.57 1071.04 167.33C1071.43 166.09 1072.15 165.06 1073.09 164.26C1074.03 163.45 1075.40 162.62 1076.68 162.51C1077.96 162.41 1080.10 163.45 1080.78 163.64L1080.78 163.64C1080.91 163.02 1080.96 160.92 1081.55 159.90C1082.15 158.87 1083.31 157.99 1084.37 157.49C1085.44 156.98 1086.68 156.79 1087.96 156.87C1089.25 156.96 1090.91 157.24 1092.07 158.00C1093.22 158.76 1094.20 160.24 1094.89 161.44C1095.57 162.63 1095.96 164.56 1096.17 165.18M1089.50 168.21C1089.76 167.86 1090.27 166.73 1091.04 166.15C1091.81 165.58 1093.01 164.97 1094.12 164.77C1095.23 164.56 1096.51 164.54 1097.71 164.92C1098.90 165.31 1100.43 166.08 1101.30 167.08C1102.17 168.08 1102.90 169.56 1102.94 170.92C1102.98 172.29 1102.47 174.15 1101.55 175.28C1100.64 176.42 1099.03 177.23 1097.45 177.74C1095.87 178.26 1093.82 178.38 1092.07 178.36C1090.31 178.33 1088.49 178.08 1086.94 177.59C1085.38 177.10 1083.43 175.79 1082.73 175.44" fill="none" stroke="#2159a9" stroke-width="1.9" stroke-linecap="round" stroke-linejoin="round"/>
</g>

<g class="dj" font-size="19.44">
<text x="69.2" y="106.7" fill="#cc0000">ned</text><text x="69.0" y="128.7" fill="#cc0000">12.10</text>
<text x="148.1" y="106.7" fill="#000">pon</text><text x="147.9" y="128.7" fill="#000">13.10</text>
<text x="226.9" y="106.7" fill="#000">tor</text><text x="226.7" y="128.7" fill="#000">14.10</text>
<text x="305.8" y="106.7" fill="#000">sre</text><text x="305.6" y="128.7" fill="#000">15.10</text>
<text x="384.6" y="106.7" fill="#000">čet</text><text x="384.4" y="128.7" fill="#000">16.10</text>
<text x="463.5" y="106.7" fill="#000">pet</text><text x="463.3" y="128.7" fill="#000">17.10</text>
<text x="542.3" y="106.7" fill="#cc0000">sob</text><text x="542.1" y="128.7" fill="#cc0000">18.10</text>
<text x="621.1" y="106.7" fill="#cc0000">ned</text><text x="620.9" y="128.7" fill="#cc0000">19.10</text>
<text x="700.0" y="106.7" fill="#000">pon</text><text x="699.8" y="128.7" fill="#000">20.10</text>
<text x="778.8" y="106.7" fill="#000">tor</text><text x="778.6" y="128.7" fill="#000">21.10</text>
<text x="857.7" y="106.7" fill="#000">sre</text><text x="857.5" y="128.7" fill="#000">22.10</text>
<text x="936.5" y="106.7" fill="#000">čet</text><text x="936.3" y="128.7" fill="#000">23.10</text>
<text x="1015.4" y="106.7" fill="#000">pet</text><text x="1015.2" y="128.7" fill="#000">24.10</text>
<text x="1094.2" y="106.7" fill="#cc0000">sob</text><text x="1094.0" y="128.7" fill="#cc0000">25.10</text>
</g>
<g class="dj" font-size="25" letter-spacing="-1.2">
<text x="69.7" y="221.2" fill="#cc0000">22°</text><text x="69.7" y="248.8" fill="#1e90ff">12°</text>
<text x="148.6" y="221.2" fill="#cc0000">21°</text><text x="148.6" y="248.8" fill="#1e90ff">12°</text>
<text x="227.4" y="221.2" fill="#cc0000">20°</text><text x="227.4" y="248.8" fill="#1e90ff">12°</text>
<text x="306.3" y="221.2" fill="#cc0000">20°</text><text x="306.3" y="248.8" fill="#1e90ff">12°</text>
<text x="385.1" y="221.2" fill="#cc0000">19°</text><text x="385.1" y="248.8" fill="#1e90ff">10°</text>
<text x="464.0" y="221.2" fill="#cc0000">19°</text><text x="464.0" y="248.8" fill="#1e90ff">10°</text>
<text x="542.8" y="221.2" fill="#cc0000">18°</text><text x="542.8" y="248.8" fill="#1e90ff">10°</text>
<text x="621.6" y="221.2" fill="#cc0000">19°</text><text x="621.6" y="248.8" fill="#1e90ff">11°</text>
<text x="700.5" y="221.2" fill="#cc0000">18°</text><text x="700.5" y="248.8" fill="#1e90ff">12°</text>
<text x="779.3" y="221.2" fill="#cc0000">18°</text><text x="779.3" y="248.8" fill="#1e90ff">14°</text>
<text x="858.2" y="221.2" fill="#cc0000">18°</text><text x="858.2" y="248.8" fill="#1e90ff">13°</text>
<text x="937.0" y="221.2" fill="#cc0000">19°</text><text x="937.0" y="248.8" fill="#1e90ff">13°</text>
<text x="1015.9" y="221.2" fill="#cc0000">18°</text><text x="1015.9" y="248.8" fill="#1e90ff">14°</text>
<text x="1094.7" y="221.2" fill="#cc0000">18°</text><text x="1094.7" y="248.8" fill="#1e90ff">13°</text>
</g>
<text class="ar" x="580" y="407.5" font-size="24" fill="#000">Temperatura (°C)</text>
<g stroke="#000" stroke-opacity="0.135" stroke-width="2">
<line x1="69.5" x2="1094.5" y1="580" y2="580"/>
<line x1="69.5" x2="1094.5" y1="526" y2="526"/>
<line x1="69.5" x2="1094.5" y1="472" y2="472"/>
<line x1="227" x2="227" y1="417.5" y2="614.5"/>
<line x1="385" x2="385" y1="417.5" y2="614.5"/>
<line x1="543" x2="543" y1="417.5" y2="614.5"/>
<line x1="700" x2="700" y1="417.5" y2="614.5"/>
<line x1="858" x2="858" y1="417.5" y2="614.5"/>
<line x1="1016" x2="1016" y1="417.5" y2="614.5"/>
</g>
<polygon points="69.72,550.71 148.57,550.82 227.41,548.76 306.26,543.13 385.10,568.58 463.95,572.15 542.80,561.11 621.64,551.79 700.49,526.88 779.34,507.93 858.18,514.97 937.03,516.49 1015.87,513.89 1094.72,516.05 1094.72,574.64 1015.87,565.65 937.03,573.78 858.18,572.59 779.34,569.12 700.49,579.52 621.64,589.81 542.80,589.37 463.95,594.35 385.10,587.75 306.26,563.38 227.41,561.21 148.57,560.46 69.72,559.70" fill="#4682f0" fill-opacity="0.4"/>
<polygon points="69.72,443.93 148.57,459.20 227.41,462.99 306.26,462.01 385.10,470.89 463.95,467.75 542.80,473.82 621.64,464.83 700.49,468.18 779.34,463.85 858.18,461.79 937.03,458.98 1015.87,466.45 1094.72,465.91 1094.72,525.26 1015.87,517.03 937.03,516.49 858.18,519.30 779.34,524.28 700.49,520.71 621.64,503.38 542.80,502.84 463.95,489.84 385.10,490.93 306.26,482.91 227.41,474.79 148.57,469.59 69.72,453.46" fill="#32cd32" fill-opacity="0.4"/>
<clipPath id="tc"><rect x="69.5" y="417.5" width="1025.0" height="197.0"/></clipPath>
<g clip-path="url(#tc)" fill="none" stroke-width="5.6" stroke-linejoin="miter">
<polyline points="69.72,448.58 148.57,464.18 227.41,468.94 306.26,472.52 385.10,480.86 463.95,478.47 542.80,488.65 621.64,483.45 700.49,494.28 779.34,493.42 858.18,491.69 937.03,487.35 1015.87,491.69 1094.72,495.37" stroke="#ff0000"/>
<polyline points="69.72,554.82 148.57,555.58 227.41,555.26 306.26,553.31 385.10,578.22 463.95,582.87 542.80,575.18 621.64,570.74 700.49,552.98 779.34,538.15 858.18,543.78 937.03,545.51 1015.87,539.55 1094.72,545.19" stroke="#1e90ff"/>
</g>
<text class="ar" x="854.3" y="483.9" font-size="19.3" fill="#0000ff">© vreme.us &amp; vreme.pro</text>
<g stroke="#000" stroke-width="0.75">
<line x1="69.5" x2="74.5" y1="612.5" y2="612.5"/>
<line x1="69.5" x2="74.5" y1="601.5" y2="601.5"/>
<line x1="69.5" x2="74.5" y1="590.5" y2="590.5"/>
<line x1="69.5" x2="74.5" y1="569.5" y2="569.5"/>
<line x1="69.5" x2="74.5" y1="558.5" y2="558.5"/>
<line x1="69.5" x2="74.5" y1="547.5" y2="547.5"/>
<line x1="69.5" x2="74.5" y1="536.5" y2="536.5"/>
<line x1="69.5" x2="74.5" y1="515.5" y2="515.5"/>
<line x1="69.5" x2="74.5" y1="504.5" y2="504.5"/>
<line x1="69.5" x2="74.5" y1="493.5" y2="493.5"/>
<line x1="69.5" x2="74.5" y1="482.5" y2="482.5"/>
<line x1="69.5" x2="74.5" y1="461.5" y2="461.5"/>
<line x1="69.5" x2="74.5" y1="450.5" y2="450.5"/>
<line x1="69.5" x2="74.5" y1="439.5" y2="439.5"/>
<line x1="69.5" x2="74.5" y1="428.5" y2="428.5"/>
</g>
<rect x="69.5" y="417.5" width="1025.0" height="197.0" fill="none" stroke="#000" stroke-width="0.9"/>
<g class="dj" font-size="19.44" fill="#000" letter-spacing="-0.5" style="text-anchor:end">
<text x="64" y="587" style="text-anchor:end">10</text>
<text x="64" y="533" style="text-anchor:end">15</text>
<text x="64" y="479" style="text-anchor:end">20</text>
<text x="64" y="425" style="text-anchor:end">25</text>
</g>
<text class="ar" x="579" y="667.5" font-size="23.7" fill="#000">Količina padavin (mm) / Možnost padavin (%)</text>
<g class="dj" font-size="19.44" fill="#000">
<text x="69.7" y="693">ned</text>
<text x="148.6" y="693">pon</text>
<text x="227.4" y="693">tor</text>
<text x="306.3" y="693">sre</text>
<text x="385.1" y="693">čet</text>
<text x="464.0" y="693">pet</text>
<text x="542.8" y="693">sob</text>
<text x="621.6" y="693">ned</text>
<text x="700.5" y="693">pon</text>
<text x="779.3" y="693">tor</text>
<text x="858.2" y="693">sre</text>
<text x="937.0" y="693">čet</text>
<text x="1015.9" y="693">pet</text>
<text x="1094.7" y="693">sob</text>
</g>
<g stroke="#000" stroke-opacity="0.135" stroke-width="2">
<line x1="69.5" x2="1094.5" y1="845" y2="845"/>
<line x1="69.5" x2="1094.5" y1="793" y2="793"/>
<line x1="69.5" x2="1094.5" y1="741" y2="741"/>
<line x1="227" x2="227" y1="700.5" y2="897.5"/>
<line x1="385" x2="385" y1="700.5" y2="897.5"/>
<line x1="543" x2="543" y1="700.5" y2="897.5"/>
<line x1="700" x2="700" y1="700.5" y2="897.5"/>
<line x1="858" x2="858" y1="700.5" y2="897.5"/>
<line x1="1016" x2="1016" y1="700.5" y2="897.5"/>
</g>
<g fill="#0050ff">
<rect x="438" y="869.21" width="52" height="28.29"/>
<rect x="674" y="894.21" width="52" height="3.29"/>
<rect x="753" y="818.89" width="52" height="78.61"/>
<rect x="832" y="826.89" width="52" height="70.61"/>
<rect x="911" y="851.89" width="52" height="45.61"/>
</g>
<clipPath id="pc"><rect x="69.5" y="700.5" width="1025.0" height="197.0"/></clipPath>
<g stroke="#808080" stroke-width="2.8" clip-path="url(#pc)">
<line x1="59.50" x2="79.50" y1="897.50" y2="897.50"/><line x1="59.50" x2="79.50" y1="897.50" y2="897.50"/>
<line x1="138.50" x2="158.50" y1="897.50" y2="897.50"/><line x1="138.50" x2="158.50" y1="897.50" y2="897.50"/>
<line x1="217.50" x2="237.50" y1="897.50" y2="897.50"/><line x1="217.50" x2="237.50" y1="897.50" y2="897.50"/>
<line x1="296.50" x2="316.50" y1="897.50" y2="897.50"/><line x1="296.50" x2="316.50" y1="897.50" y2="897.50"/>
<line x1="375.50" x2="395.50" y1="897.50" y2="897.50"/><line x1="375.50" x2="395.50" y1="897.50" y2="897.50"/>
<line x1="463.50" x2="463.50" y1="855.29" y2="882.39"/><line x1="453.50" x2="473.50" y1="855.29" y2="855.29"/><line x1="453.50" x2="473.50" y1="882.39" y2="882.39"/>
<line x1="532.50" x2="552.50" y1="897.50" y2="897.50"/><line x1="532.50" x2="552.50" y1="897.50" y2="897.50"/>
<line x1="611.50" x2="631.50" y1="897.50" y2="897.50"/><line x1="611.50" x2="631.50" y1="897.50" y2="897.50"/>
<line x1="700.50" x2="700.50" y1="812.30" y2="897.50"/><line x1="690.50" x2="710.50" y1="812.30" y2="812.30"/>
<line x1="779.50" x2="779.50" y1="727.63" y2="897.50"/><line x1="769.50" x2="789.50" y1="727.63" y2="727.63"/>
<line x1="858.50" x2="858.50" y1="714.45" y2="897.50"/><line x1="848.50" x2="868.50" y1="714.45" y2="714.45"/>
<line x1="937.50" x2="937.50" y1="785.63" y2="897.50"/><line x1="927.50" x2="947.50" y1="785.63" y2="785.63"/>
<line x1="1005.50" x2="1025.50" y1="897.50" y2="897.50"/><line x1="1005.50" x2="1025.50" y1="897.50" y2="897.50"/>
<line x1="1084.50" x2="1104.50" y1="897.50" y2="897.50"/><line x1="1084.50" x2="1104.50" y1="897.50" y2="897.50"/>
</g>
<rect x="69.5" y="700.5" width="1025.0" height="197.0" fill="none" stroke="#000" stroke-width="0.9"/>
<g class="dj" font-size="19.44" fill="#000">
<text x="63.1" y="749" letter-spacing="-0.9" style="text-anchor:end">30</text>
<text x="63.1" y="801" letter-spacing="-0.9" style="text-anchor:end">20</text>
<text x="63.1" y="853" letter-spacing="-0.9" style="text-anchor:end">10</text>
<text x="65.6" y="893" style="text-anchor:end">0</text>
</g>
<g class="dj" font-size="24.3" letter-spacing="-1">
<text x="69.0" y="926.7" fill="#4dd2e2">0%</text>
<text x="147.9" y="926.7" fill="#4dd2e2">0%</text>
<text x="226.7" y="926.7" fill="#4dd2e2">0%</text>
<text x="305.6" y="926.7" fill="#4dd2e2">0%</text>
<text x="384.4" y="926.7" fill="#4dd2e2">0%</text>
<text x="463.3" y="926.7" fill="#4dd2e2">10%</text>
<text x="542.1" y="926.7" fill="#4dd2e2">5%</text>
<text x="620.9" y="926.7" fill="#2a96d2">15%</text>
<text x="699.8" y="926.7" fill="#2a96d2">40%</text>
<text x="778.6" y="926.7" fill="#0a5bbd">55%</text>
<text x="857.5" y="926.7" fill="#0a5bbd">60%</text>
<text x="936.3" y="926.7" fill="#2a96d2">50%</text>
<text x="1015.2" y="926.7" fill="#0a5bbd">55%</text>
<text x="1094.0" y="926.7" fill="#2a96d2">45%</text>
</g>
</svg>
</body></html>
